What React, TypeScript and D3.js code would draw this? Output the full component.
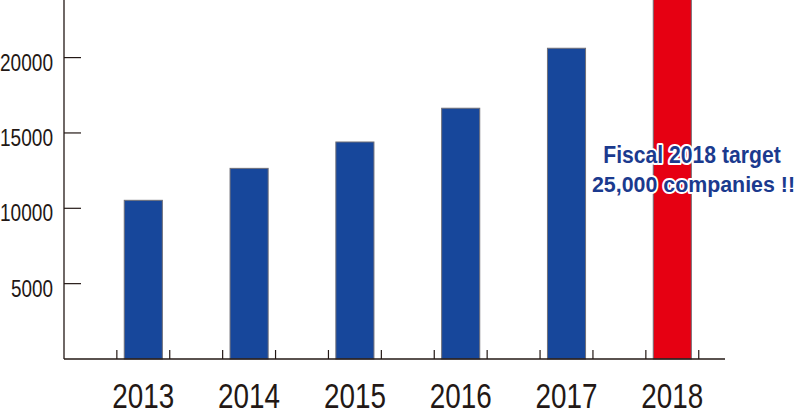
import React from "react";
import * as d3 from "d3";

const years = ["2013", "2014", "2015", "2016", "2017", "2018"];
const companies = [10530, 12650, 14400, 16640, 20620, 25000];
const yTicks = [5000, 10000, 15000, 20000];
const annotationLines = ["Fiscal 2018 target", "25,000 companies !!"];

const W = 800;
const H = 419;
const axisX = 64;
const baseY = 359;

export default function App() {
  const x = d3
    .scaleBand<string>()
    .domain(years)
    .range([90.4, 725.2])
    .paddingInner(0.64)
    .paddingOuter(0.32);
  const y = d3.scaleLinear().domain([0, 20000]).range([baseY, 57.6]);
  const half = x.step() / 4;
  const ink = "#231815";

  return (
    <svg
      width={W}
      height={H}
      style={{ position: "absolute", left: 0, top: 0, overflow: "hidden" }}
    >
      <rect x={0} y={0} width={W} height={H} fill="#fff" />
      {years.map((yr, i) => {
        const isTarget = i === years.length - 1;
        const top = y(companies[i]);
        return (
          <rect
            key={yr}
            x={x(yr)!}
            y={top}
            width={x.bandwidth()}
            height={baseY - top}
            fill={isTarget ? "#e60012" : "#17479b"}
            stroke="#6f6f78"
            strokeWidth={1}
          />
        );
      })}
      {/* axes */}
      <line x1={axisX} y1={0} x2={axisX} y2={baseY} stroke={ink} strokeWidth={1.3} />
      <line x1={axisX} y1={baseY} x2={725} y2={baseY} stroke={ink} strokeWidth={1.3} />
      {yTicks.map((t) => (
        <g key={t}>
          <line x1={axisX} x2={axisX + 17} y1={y(t)} y2={y(t)} stroke={ink} strokeWidth={1.2} />
          <text
            x={53}
            y={y(t) + 13}
            textAnchor="end"
            fontFamily="Liberation Sans, Arial, sans-serif"
            fontSize={23}
            fill={ink}
            textLength={t >= 10000 ? 53 : 42}
            lengthAdjust="spacingAndGlyphs"
          >
            {t}
          </text>
        </g>
      ))}
      {years.map((yr) => {
        const c = x(yr)! + x.bandwidth() / 2;
        return (
          <g key={yr}>
            <line x1={c - half} x2={c - half} y1={baseY} y2={baseY - 9} stroke={ink} strokeWidth={1.2} />
            <line x1={c + half} x2={c + half} y1={baseY} y2={baseY - 9} stroke={ink} strokeWidth={1.2} />
            <text
              x={c}
              y={408}
              textAnchor="middle"
              fontFamily="Liberation Sans, Arial, sans-serif"
              fontSize={35}
              fill={ink}
              textLength={62}
              lengthAdjust="spacingAndGlyphs"
            >
              {yr}
            </text>
          </g>
        );
      })}
      {annotationLines.map((line, i) => (
        <g
          key={i}
          transform={`translate(${i === 0 ? 692 : 693.5},${163 + i * 28.5}) scale(${i === 0 ? 0.92 : 0.93},1)`}
        >
          <text
            x={0}
            y={0}
            textAnchor="middle"
            fontFamily="Liberation Sans, Arial, sans-serif"
            fontWeight="bold"
            fontSize={23}
            fill="#1b3a8e"
            stroke="#fff"
            strokeWidth={4}
            strokeLinejoin="round"
            paintOrder="stroke"
          >
            {line}
          </text>
        </g>
      ))}
    </svg>
  );
}
